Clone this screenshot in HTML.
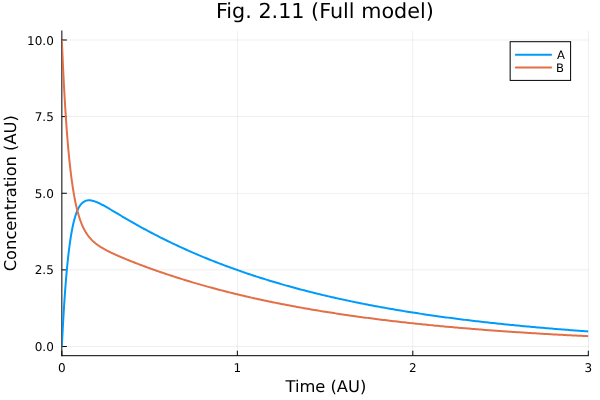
<!DOCTYPE html>
<html lang="en"><head><meta charset="utf-8"><title>Fig. 2.11 (Full model)</title>
<style>
html,body{margin:0;padding:0;background:#fff;}
body{width:600px;height:400px;overflow:hidden;}
svg{display:block;font-family:"DejaVu Sans","Liberation Sans",sans-serif;text-rendering:geometricPrecision;}
.grid{stroke:#000;stroke-opacity:0.1;stroke-width:0.55;}
.ax{stroke:#000;stroke-width:1;}
.tk{font-size:12.0px;fill:#000;}
.lab{font-size:16.3px;fill:#000;}
.ttl{font-size:20.73px;fill:#000;}
.leg{font-size:11.6px;fill:#000;}
.c{fill:none;stroke-width:2.0;stroke-linejoin:round;stroke-linecap:butt;}
</style></head><body>
<svg width="600" height="400" viewBox="0 0 600 400">
<rect width="600" height="400" fill="#fff"/>
<g><rect x="237" y="31" width="1" height="325" fill="#000" fill-opacity="0.060"/><rect x="412" y="31" width="1" height="325" fill="#000" fill-opacity="0.048"/><rect x="413" y="31" width="1" height="325" fill="#000" fill-opacity="0.012"/><rect x="588" y="31" width="1" height="325" fill="#000" fill-opacity="0.060"/><rect x="62" y="346" width="527" height="1" fill="#000" fill-opacity="0.060"/><rect x="62" y="269" width="527" height="1" fill="#000" fill-opacity="0.043"/><rect x="62" y="270" width="527" height="1" fill="#000" fill-opacity="0.018"/><rect x="62" y="192" width="527" height="1" fill="#000" fill-opacity="0.005"/><rect x="62" y="193" width="527" height="1" fill="#000" fill-opacity="0.055"/><rect x="62" y="116" width="527" height="1" fill="#000" fill-opacity="0.060"/><rect x="62" y="39" width="527" height="1" fill="#000" fill-opacity="0.030"/><rect x="62" y="40" width="527" height="1" fill="#000" fill-opacity="0.030"/></g>
<g><line x1="61.85" y1="31.0" x2="61.85" y2="355.7" class="ax" stroke-linecap="square"/><line x1="61.85" y1="355.7" x2="588.3" y2="355.7" class="ax" stroke-linecap="square"/><line x1="61.85" y1="355.7" x2="61.85" y2="350.7" class="ax"/><line x1="237.33" y1="355.7" x2="237.33" y2="350.7" class="ax"/><line x1="412.82" y1="355.7" x2="412.82" y2="350.7" class="ax"/><line x1="588.30" y1="355.7" x2="588.30" y2="350.7" class="ax"/><line x1="61.85" y1="346.50" x2="66.85" y2="346.50" class="ax"/><line x1="61.85" y1="269.88" x2="66.85" y2="269.88" class="ax"/><line x1="61.85" y1="193.25" x2="66.85" y2="193.25" class="ax"/><line x1="61.85" y1="116.62" x2="66.85" y2="116.62" class="ax"/><line x1="61.85" y1="40.00" x2="66.85" y2="40.00" class="ax"/></g>
<g><text x="61.85" y="371.5" class="tk" text-anchor="middle">0</text><text x="237.33" y="371.5" class="tk" text-anchor="middle">1</text><text x="412.82" y="371.5" class="tk" text-anchor="middle">2</text><text x="588.30" y="371.5" class="tk" text-anchor="middle">3</text><text x="53.8" y="351" class="tk" text-anchor="end">0.0</text><text x="53.8" y="274" class="tk" text-anchor="end">2.5</text><text x="53.8" y="198" class="tk" text-anchor="end">5.0</text><text x="53.8" y="121" class="tk" text-anchor="end">7.5</text><text x="53.8" y="45" class="tk" text-anchor="end">10.0</text></g>
<text x="324.85" y="18.0" class="ttl" text-anchor="middle">Fig. 2.11 (Full model)</text>
<text x="325.9" y="391.8" class="lab" text-anchor="middle">Time (AU)</text>
<text transform="translate(16.0,193.2) rotate(-90)" class="lab" text-anchor="middle">Concentration (AU)</text>
<clipPath id="cp"><rect x="62.0" y="31.0" width="526.8" height="324.7"/></clipPath>
<g clip-path="url(#cp)">
<path class="c" stroke="#009afa" d="M61.85,346.50 L62.29,337.56 L62.73,329.13 L63.17,321.17 L63.60,313.65 L64.04,306.56 L64.48,299.87 L64.92,293.56 L65.36,287.61 L65.80,281.99 L66.24,276.70 L66.68,271.71 L67.11,267.01 L67.55,262.58 L67.99,258.40 L68.43,254.47 L68.87,250.77 L69.31,247.29 L69.75,244.01 L70.19,240.92 L70.62,238.02 L71.06,235.29 L71.50,232.73 L71.94,230.33 L72.38,228.07 L72.82,225.95 L73.26,223.96 L73.70,222.09 L74.13,220.35 L74.57,218.71 L75.01,217.18 L75.45,215.75 L75.89,214.42 L76.33,213.17 L76.77,212.01 L77.20,210.93 L77.64,209.92 L78.08,208.98 L78.52,208.11 L78.96,207.31 L79.40,206.56 L79.84,205.88 L80.28,205.24 L80.71,204.66 L81.15,204.12 L81.59,203.63 L82.03,203.19 L82.47,202.78 L82.91,202.41 L83.35,202.08 L83.79,201.78 L84.22,201.52 L84.66,201.28 L85.10,201.08 L85.54,200.90 L85.98,200.75 L86.42,200.62 L86.86,200.52 L87.30,200.44 L87.73,200.37 L88.17,200.33 L88.61,200.31 L89.05,200.30 L89.49,200.31 L89.93,200.33 L90.37,200.37 L90.80,200.43 L91.24,200.49 L91.68,200.57 L92.12,200.66 L92.56,200.76 L93.00,200.87 L93.44,201.00 L93.88,201.13 L94.31,201.26 L94.75,201.41 L95.19,201.57 L95.63,201.73 L96.07,201.90 L96.51,202.07 L96.95,202.25 L97.39,202.44 L97.82,202.63 L98.26,202.83 L98.70,203.03 L99.14,203.23 L99.58,203.45 L100.02,203.66 L100.46,203.88 L100.90,204.10 L101.33,204.32 L101.77,204.55 L102.21,204.78 L102.65,205.01 L103.09,205.25 L103.53,205.49 L103.97,205.73 L104.40,205.97 L104.84,206.21 L105.28,206.46 L105.72,206.70 L106.16,206.95 L106.60,207.20 L107.04,207.45 L107.48,207.70 L107.91,207.96 L108.35,208.21 L108.79,208.47 L109.23,208.72 L109.67,208.98 L110.11,209.24 L110.55,209.50 L110.99,209.75 L111.42,210.01 L111.86,210.27 L112.30,210.53 L112.74,210.79 L113.18,211.05 L113.62,211.31 L114.06,211.58 L114.49,211.84 L114.93,212.10 L115.37,212.36 L115.81,212.62 L116.25,212.88 L116.69,213.14 L117.13,213.41 L117.57,213.67 L118.00,213.93 L118.44,214.19 L118.88,214.45 L119.32,214.71 L119.76,214.97 L120.20,215.23 L120.64,215.49 L121.08,215.75 L121.51,216.01 L121.95,216.27 L122.39,216.53 L122.83,216.79 L123.27,217.05 L123.71,217.31 L124.15,217.57 L124.59,217.82 L125.02,218.08 L125.46,218.34 L125.90,218.60 L126.34,218.85 L126.78,219.11 L127.22,219.36 L127.66,219.62 L128.09,219.87 L128.53,220.13 L128.97,220.38 L129.41,220.64 L129.85,220.89 L130.29,221.14 L130.73,221.40 L131.17,221.65 L131.60,221.90 L132.04,222.15 L133.80,223.15 L135.55,224.14 L137.31,225.13 L139.06,226.11 L140.82,227.08 L142.57,228.04 L144.33,229.00 L146.08,229.95 L147.84,230.89 L149.59,231.82 L151.35,232.75 L153.10,233.66 L154.86,234.58 L156.61,235.48 L158.37,236.38 L160.12,237.27 L161.88,238.15 L163.63,239.02 L165.39,239.89 L167.14,240.75 L168.89,241.61 L170.65,242.45 L172.40,243.30 L174.16,244.13 L175.91,244.96 L177.67,245.78 L179.42,246.59 L181.18,247.40 L182.93,248.20 L184.69,248.99 L186.44,249.78 L188.20,250.56 L189.95,251.34 L191.71,252.11 L193.46,252.87 L195.22,253.62 L196.97,254.38 L198.73,255.12 L200.48,255.86 L202.24,256.59 L203.99,257.32 L205.75,258.04 L207.50,258.75 L209.26,259.46 L211.01,260.16 L212.77,260.86 L214.52,261.55 L216.28,262.24 L218.03,262.92 L219.78,263.60 L221.54,264.27 L223.29,264.93 L225.05,265.59 L226.80,266.24 L228.56,266.89 L230.31,267.53 L232.07,268.17 L233.82,268.81 L235.58,269.43 L237.33,270.06 L239.09,270.67 L240.84,271.29 L242.60,271.89 L244.35,272.50 L246.11,273.09 L247.86,273.69 L249.62,274.28 L251.37,274.86 L253.13,275.44 L254.88,276.01 L256.64,276.58 L258.39,277.15 L260.15,277.71 L261.90,278.26 L263.66,278.81 L265.41,279.36 L267.17,279.90 L268.92,280.44 L270.68,280.98 L272.43,281.50 L274.18,282.03 L275.94,282.55 L277.69,283.07 L279.45,283.58 L281.20,284.09 L282.96,284.59 L284.71,285.09 L286.47,285.59 L288.22,286.08 L289.98,286.57 L291.73,287.05 L293.49,287.53 L295.24,288.01 L297.00,288.48 L298.75,288.95 L300.51,289.42 L302.26,289.88 L304.02,290.33 L305.77,290.79 L307.53,291.24 L309.28,291.69 L311.04,292.13 L312.79,292.57 L314.55,293.00 L316.30,293.44 L318.06,293.86 L319.81,294.29 L321.57,294.71 L323.32,295.13 L325.07,295.54 L326.83,295.96 L328.58,296.36 L330.34,296.77 L332.09,297.17 L333.85,297.57 L335.60,297.97 L337.36,298.36 L339.11,298.75 L340.87,299.13 L342.62,299.51 L344.38,299.89 L346.13,300.27 L347.89,300.64 L349.64,301.02 L351.40,301.38 L353.15,301.75 L354.91,302.11 L356.66,302.47 L358.42,302.82 L360.17,303.18 L361.93,303.53 L363.68,303.87 L365.44,304.22 L367.19,304.56 L368.95,304.90 L370.70,305.23 L372.46,305.57 L374.21,305.90 L375.97,306.23 L377.72,306.55 L379.47,306.87 L381.23,307.19 L382.98,307.51 L384.74,307.83 L386.49,308.14 L388.25,308.45 L390.00,308.76 L391.76,309.06 L393.51,309.36 L395.27,309.66 L397.02,309.96 L398.78,310.26 L400.53,310.55 L402.29,310.84 L404.04,311.13 L405.80,311.41 L407.55,311.70 L409.31,311.98 L411.06,312.26 L412.82,312.53 L414.57,312.81 L416.33,313.08 L418.08,313.35 L419.84,313.62 L421.59,313.88 L423.35,314.15 L425.10,314.41 L426.86,314.67 L428.61,314.93 L430.36,315.18 L432.12,315.43 L433.87,315.69 L435.63,315.93 L437.38,316.18 L439.14,316.43 L440.89,316.67 L442.65,316.91 L444.40,317.15 L446.16,317.39 L447.91,317.62 L449.67,317.85 L451.42,318.09 L453.18,318.32 L454.93,318.54 L456.69,318.77 L458.44,318.99 L460.20,319.22 L461.95,319.44 L463.71,319.65 L465.46,319.87 L467.22,320.09 L468.97,320.30 L470.73,320.51 L472.48,320.72 L474.24,320.93 L475.99,321.14 L477.75,321.34 L479.50,321.54 L481.26,321.75 L483.01,321.95 L484.76,322.14 L486.52,322.34 L488.27,322.54 L490.03,322.73 L491.78,322.92 L493.54,323.11 L495.29,323.30 L497.05,323.49 L498.80,323.68 L500.56,323.86 L502.31,324.04 L504.07,324.22 L505.82,324.40 L507.58,324.58 L509.33,324.76 L511.09,324.94 L512.84,325.11 L514.60,325.28 L516.35,325.45 L518.11,325.62 L519.86,325.79 L521.62,325.96 L523.37,326.13 L525.13,326.29 L526.88,326.45 L528.64,326.62 L530.39,326.78 L532.15,326.94 L533.90,327.09 L535.65,327.25 L537.41,327.41 L539.16,327.56 L540.92,327.71 L542.67,327.87 L544.43,328.02 L546.18,328.16 L547.94,328.31 L549.69,328.46 L551.45,328.61 L553.20,328.75 L554.96,328.89 L556.71,329.04 L558.47,329.18 L560.22,329.32 L561.98,329.46 L563.73,329.59 L565.49,329.73 L567.24,329.87 L569.00,330.00 L570.75,330.13 L572.51,330.27 L574.26,330.40 L576.02,330.53 L577.77,330.66 L579.53,330.78 L581.28,330.91 L583.04,331.04 L584.79,331.16 L586.55,331.29 L588.30,331.41"/>
<path class="c" stroke="#e36f47" d="M61.85,40.00 L62.29,50.44 L62.73,60.33 L63.17,69.70 L63.60,78.58 L64.04,86.99 L64.48,94.95 L64.92,102.50 L65.36,109.66 L65.80,116.44 L66.24,122.87 L66.68,128.96 L67.11,134.74 L67.55,140.21 L67.99,145.40 L68.43,150.33 L68.87,155.00 L69.31,159.43 L69.75,163.63 L70.19,167.62 L70.62,171.41 L71.06,175.00 L71.50,178.41 L71.94,181.65 L72.38,184.73 L72.82,187.65 L73.26,190.42 L73.70,193.06 L74.13,195.57 L74.57,197.95 L75.01,200.22 L75.45,202.37 L75.89,204.43 L76.33,206.38 L76.77,208.24 L77.20,210.01 L77.64,211.69 L78.08,213.30 L78.52,214.83 L78.96,216.29 L79.40,217.68 L79.84,219.01 L80.28,220.28 L80.71,221.49 L81.15,222.65 L81.59,223.75 L82.03,224.81 L82.47,225.82 L82.91,226.79 L83.35,227.72 L83.79,228.61 L84.22,229.46 L84.66,230.28 L85.10,231.06 L85.54,231.82 L85.98,232.54 L86.42,233.23 L86.86,233.90 L87.30,234.55 L87.73,235.17 L88.17,235.77 L88.61,236.34 L89.05,236.90 L89.49,237.44 L89.93,237.95 L90.37,238.46 L90.80,238.94 L91.24,239.41 L91.68,239.87 L92.12,240.31 L92.56,240.74 L93.00,241.16 L93.44,241.56 L93.88,241.95 L94.31,242.34 L94.75,242.71 L95.19,243.07 L95.63,243.43 L96.07,243.77 L96.51,244.11 L96.95,244.44 L97.39,244.76 L97.82,245.08 L98.26,245.39 L98.70,245.69 L99.14,245.99 L99.58,246.28 L100.02,246.57 L100.46,246.85 L100.90,247.13 L101.33,247.40 L101.77,247.66 L102.21,247.93 L102.65,248.19 L103.09,248.44 L103.53,248.70 L103.97,248.94 L104.40,249.19 L104.84,249.43 L105.28,249.67 L105.72,249.91 L106.16,250.14 L106.60,250.37 L107.04,250.60 L107.48,250.83 L107.91,251.05 L108.35,251.28 L108.79,251.50 L109.23,251.71 L109.67,251.93 L110.11,252.15 L110.55,252.36 L110.99,252.57 L111.42,252.78 L111.86,252.99 L112.30,253.20 L112.74,253.40 L113.18,253.61 L113.62,253.81 L114.06,254.01 L114.49,254.21 L114.93,254.41 L115.37,254.61 L115.81,254.81 L116.25,255.00 L116.69,255.20 L117.13,255.39 L117.57,255.59 L118.00,255.78 L118.44,255.97 L118.88,256.16 L119.32,256.35 L119.76,256.54 L120.20,256.73 L120.64,256.92 L121.08,257.11 L121.51,257.29 L121.95,257.48 L122.39,257.67 L122.83,257.85 L123.27,258.03 L123.71,258.22 L124.15,258.40 L124.59,258.58 L125.02,258.76 L125.46,258.94 L125.90,259.13 L126.34,259.31 L126.78,259.49 L127.22,259.66 L127.66,259.84 L128.09,260.02 L128.53,260.20 L128.97,260.37 L129.41,260.55 L129.85,260.73 L130.29,260.90 L130.73,261.08 L131.17,261.25 L131.60,261.43 L132.04,261.60 L133.80,262.29 L135.55,262.98 L137.31,263.65 L139.06,264.33 L140.82,264.99 L142.57,265.65 L144.33,266.31 L146.08,266.96 L147.84,267.60 L149.59,268.24 L151.35,268.87 L153.10,269.50 L154.86,270.12 L156.61,270.74 L158.37,271.35 L160.12,271.96 L161.88,272.56 L163.63,273.16 L165.39,273.75 L167.14,274.34 L168.89,274.92 L170.65,275.50 L172.40,276.07 L174.16,276.64 L175.91,277.21 L177.67,277.77 L179.42,278.32 L181.18,278.87 L182.93,279.42 L184.69,279.96 L186.44,280.50 L188.20,281.03 L189.95,281.56 L191.71,282.09 L193.46,282.61 L195.22,283.12 L196.97,283.63 L198.73,284.14 L200.48,284.65 L202.24,285.15 L203.99,285.64 L205.75,286.13 L207.50,286.62 L209.26,287.10 L211.01,287.58 L212.77,288.06 L214.52,288.53 L216.28,289.00 L218.03,289.47 L219.78,289.93 L221.54,290.38 L223.29,290.84 L225.05,291.29 L226.80,291.73 L228.56,292.18 L230.31,292.61 L232.07,293.05 L233.82,293.48 L235.58,293.91 L237.33,294.33 L239.09,294.76 L240.84,295.17 L242.60,295.59 L244.35,296.00 L246.11,296.41 L247.86,296.81 L249.62,297.21 L251.37,297.61 L253.13,298.01 L254.88,298.40 L256.64,298.79 L258.39,299.17 L260.15,299.56 L261.90,299.94 L263.66,300.31 L265.41,300.68 L267.17,301.05 L268.92,301.42 L270.68,301.79 L272.43,302.15 L274.18,302.51 L275.94,302.86 L277.69,303.21 L279.45,303.56 L281.20,303.91 L282.96,304.25 L284.71,304.60 L286.47,304.93 L288.22,305.27 L289.98,305.60 L291.73,305.93 L293.49,306.26 L295.24,306.59 L297.00,306.91 L298.75,307.23 L300.51,307.55 L302.26,307.86 L304.02,308.17 L305.77,308.48 L307.53,308.79 L309.28,309.09 L311.04,309.40 L312.79,309.70 L314.55,309.99 L316.30,310.29 L318.06,310.58 L319.81,310.87 L321.57,311.16 L323.32,311.44 L325.07,311.73 L326.83,312.01 L328.58,312.29 L330.34,312.56 L332.09,312.84 L333.85,313.11 L335.60,313.38 L337.36,313.65 L339.11,313.91 L340.87,314.18 L342.62,314.44 L344.38,314.70 L346.13,314.95 L347.89,315.21 L349.64,315.46 L351.40,315.71 L353.15,315.96 L354.91,316.21 L356.66,316.45 L358.42,316.69 L360.17,316.94 L361.93,317.17 L363.68,317.41 L365.44,317.65 L367.19,317.88 L368.95,318.11 L370.70,318.34 L372.46,318.57 L374.21,318.79 L375.97,319.02 L377.72,319.24 L379.47,319.46 L381.23,319.68 L382.98,319.89 L384.74,320.11 L386.49,320.32 L388.25,320.53 L390.00,320.74 L391.76,320.95 L393.51,321.16 L395.27,321.36 L397.02,321.57 L398.78,321.77 L400.53,321.97 L402.29,322.17 L404.04,322.36 L405.80,322.56 L407.55,322.75 L409.31,322.94 L411.06,323.13 L412.82,323.32 L414.57,323.51 L416.33,323.70 L418.08,323.88 L419.84,324.06 L421.59,324.24 L423.35,324.42 L425.10,324.60 L426.86,324.78 L428.61,324.95 L430.36,325.13 L432.12,325.30 L433.87,325.47 L435.63,325.64 L437.38,325.81 L439.14,325.98 L440.89,326.14 L442.65,326.31 L444.40,326.47 L446.16,326.63 L447.91,326.79 L449.67,326.95 L451.42,327.11 L453.18,327.27 L454.93,327.42 L456.69,327.58 L458.44,327.73 L460.20,327.88 L461.95,328.03 L463.71,328.18 L465.46,328.33 L467.22,328.48 L468.97,328.62 L470.73,328.77 L472.48,328.91 L474.24,329.05 L475.99,329.19 L477.75,329.33 L479.50,329.47 L481.26,329.61 L483.01,329.74 L484.76,329.88 L486.52,330.01 L488.27,330.15 L490.03,330.28 L491.78,330.41 L493.54,330.54 L495.29,330.67 L497.05,330.80 L498.80,330.92 L500.56,331.05 L502.31,331.18 L504.07,331.30 L505.82,331.42 L507.58,331.54 L509.33,331.66 L511.09,331.78 L512.84,331.90 L514.60,332.02 L516.35,332.14 L518.11,332.25 L519.86,332.37 L521.62,332.48 L523.37,332.60 L525.13,332.71 L526.88,332.82 L528.64,332.93 L530.39,333.04 L532.15,333.15 L533.90,333.26 L535.65,333.36 L537.41,333.47 L539.16,333.58 L540.92,333.68 L542.67,333.78 L544.43,333.89 L546.18,333.99 L547.94,334.09 L549.69,334.19 L551.45,334.29 L553.20,334.39 L554.96,334.49 L556.71,334.58 L558.47,334.68 L560.22,334.77 L561.98,334.87 L563.73,334.96 L565.49,335.06 L567.24,335.15 L569.00,335.24 L570.75,335.33 L572.51,335.42 L574.26,335.51 L576.02,335.60 L577.77,335.69 L579.53,335.78 L581.28,335.86 L583.04,335.95 L584.79,336.03 L586.55,336.12 L588.30,336.20"/>
</g>
<rect x="510.15" y="41.7" width="60.45" height="38.7" fill="#fff" stroke="#000" stroke-width="1"/>
<line x1="515.8" y1="54.7" x2="551.1" y2="54.7" stroke="#009afa" stroke-width="2.0" stroke-linecap="round"/>
<line x1="515.8" y1="67.6" x2="551.1" y2="67.6" stroke="#e36f47" stroke-width="2.0" stroke-linecap="round"/>
<text x="557.1" y="58.8" class="leg">A</text>
<text x="556.0" y="71.5" class="leg">B</text>
</svg>
</body></html>
